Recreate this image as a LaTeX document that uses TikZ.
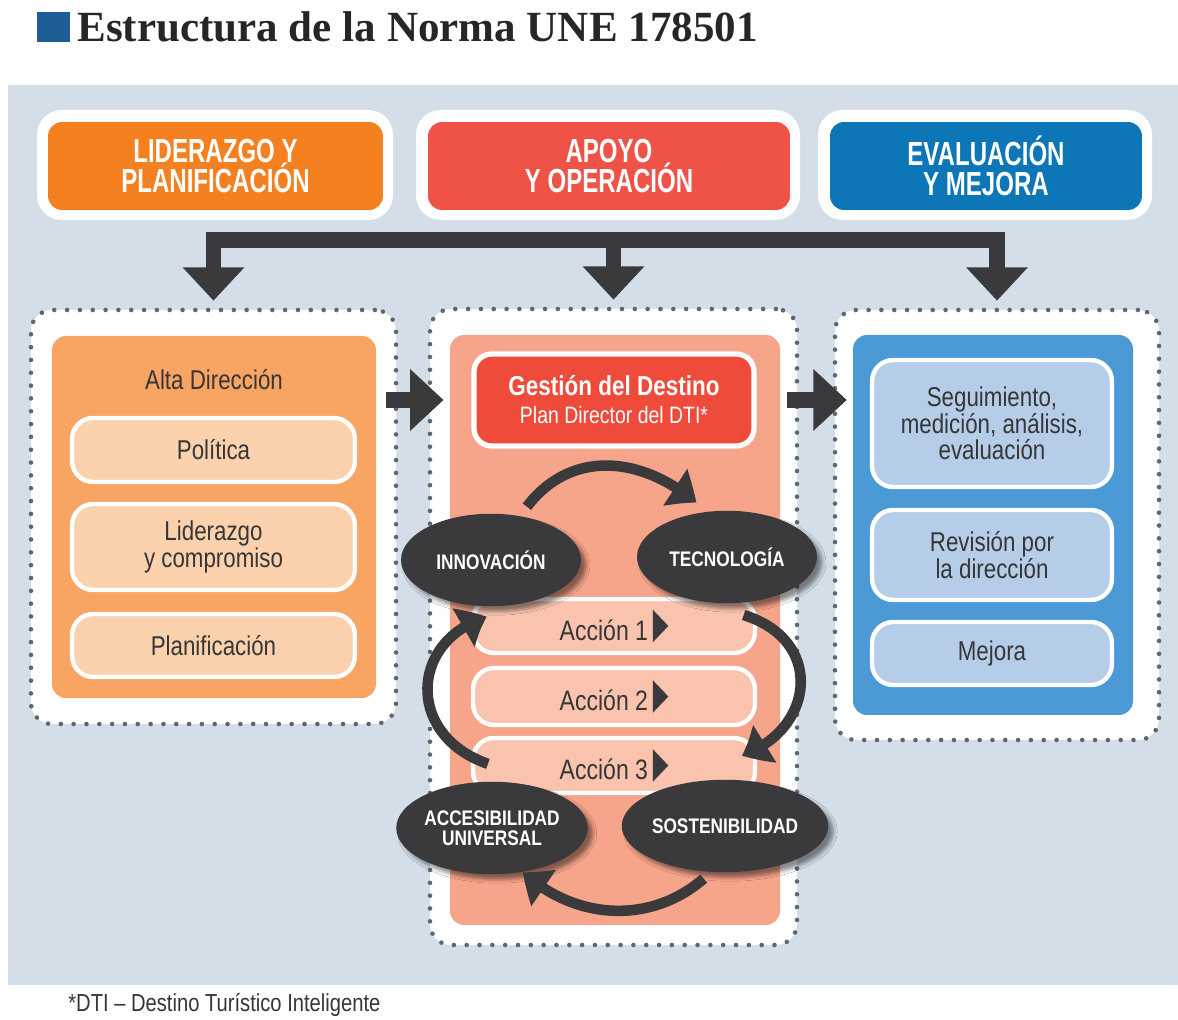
\documentclass[tikz,border=0pt]{standalone}
\usepackage{fontspec}
\setmainfont{Liberation Sans}
\newfontfamily\condfont[FakeStretch=0.82]{Liberation Sans}
\newfontfamily\hdrfont[FakeStretch=0.72]{Liberation Sans}
\newfontfamily\titlefont{Liberation Serif}
\usepackage{tikz}
\usetikzlibrary{arrows.meta,bending,fit,shapes.geometric,shadows.blur}

\definecolor{bgpanel}{HTML}{D3DEE8}
\definecolor{darkc}{HTML}{3A3A3C}
\definecolor{titleblue}{HTML}{1E5C96}
\definecolor{orangeH}{HTML}{F5801F}
\definecolor{redH}{HTML}{EF5347}
\definecolor{blueH}{HTML}{0D76B6}
\definecolor{orangeP}{HTML}{F8A463}
\definecolor{orangeS}{HTML}{FCD2AE}
\definecolor{salmonP}{HTML}{F6A48A}
\definecolor{salmonS}{HTML}{F9C3AE}
\definecolor{redG}{HTML}{EE4B3B}
\definecolor{blueP}{HTML}{4B9AD6}
\definecolor{blueS}{HTML}{B5CDE8}
\definecolor{textc}{HTML}{363636}
\definecolor{dotc}{HTML}{5E6670}

\newcommand{\tri}{\tikz[baseline]\fill[darkc, sharp corners, draw=none] (0,-0.15ex) -- (0,2.05ex) -- (1.05ex,0.95ex) -- cycle;}

\begin{document}
\begin{tikzpicture}[x=0.02cm,y=-0.02cm,
  hdrframe/.style={fill=white, rounded corners=14pt, inner sep=0pt},
  hdr/.style={rounded corners=8pt, inner sep=0pt, text=white, align=center,
    minimum height=1.76cm, font=\hdrfont\bfseries\fontsize{19}{17.5}\selectfont},
  frame/.style={draw=dotc, fill=white, line width=2.6pt, dash pattern=on 0pt off 7.3pt,
    line cap=round, rounded corners=12pt, inner sep=0pt},
  panel/.style={rounded corners=8pt, inner sep=0pt},
  subbox/.style={draw=white, line width=2.5pt, rounded corners=12pt, inner sep=0pt,
    text=textc, align=center, font=\condfont\fontsize{15.5}{15}\selectfont},
  lsub/.style={subbox, fill=orangeS, minimum width=5.66cm},
  rsub/.style={subbox, fill=blueS, minimum width=4.8cm},
  accion/.style={subbox, fill=salmonS, minimum width=5.64cm, font=\condfont\fontsize{16}{16}\selectfont},
  topic/.style={ellipse, fill=darkc, text=white, inner sep=0pt, align=center,
    minimum width=3.6cm, minimum height=1.85cm,
    font=\condfont\bfseries\fontsize{12}{11.5}\selectfont,
    blur shadow={shadow xshift=3pt, shadow yshift=-3pt, shadow opacity=45}},
  bigarrow/.style={draw=darkc, line width=9pt, -{Triangle[length=19pt,width=34pt]}},
  cycarrow/.style={draw=darkc, line width=6pt, -{Triangle[length=15pt,width=24pt,bend]}}]

\useasboundingbox (0,0) rectangle (1178,1020);

%%%%%%%%%%%%%%%%%%Title%%%%%%%%%%%%%%%
\fill[titleblue] (37,12) rectangle (70,42);
\node[anchor=west, inner sep=0pt, text=black!85,
  font=\titlefont\bfseries\fontsize{24.5}{26}\selectfont] (title) at (77,27)
  {Estructura de la Norma UNE 178501};

%%%%%%%%%%%%%%%%%%Background Panel%%%%%%%%%%%%%%%
\fill[bgpanel] (8,85) rectangle (1178,985);

%%%%%%%%%%%%%%%%%%Header Boxes%%%%%%%%%%%%%%%
\node[hdrframe, fit={(37,110) (393,220)}] (lhf) {};
\node[hdrframe, fit={(416,110) (800,220)}] (mhf) {};
\node[hdrframe, fit={(818,110) (1152,220)}] (rhf) {};
\node[hdr, fill=orangeH, minimum width=6.7cm] (lhdr) at (215.5,166) {LIDERAZGO Y\\PLANIFICACIÓN};
\node[hdr, fill=redH, minimum width=7.24cm] (mhdr) at (609,166) {APOYO\\Y OPERACIÓN};
\node[hdr, fill=blueH, minimum width=6.24cm] (rhdr) at (986,166) {EVALUACIÓN\\Y MEJORA};

%%%%%%%%%%%%%%%%%%Dotted Frames and Panels%%%%%%%%%%%%%%%
\node[frame, fit={(31,310) (396,724)}] (lframe) {};
\node[frame, fit={(430,309) (797,945)}] (mframe) {};
\node[frame, fit={(835,310) (1159,740)}] (rframe) {};
\node[panel, fill=orangeP, fit={(52,336) (376,698)}] (lpanel) {};
\node[panel, fill=salmonP, fit={(450,335) (780,925)}] (mpanel) {};
\node[panel, fill=blueP, fit={(853,335) (1133,715)}] (rpanel) {};

%%%%%%%%%%%%%%%%%%Bar and Drops%%%%%%%%%%%%%%%
\coordinate (bar) at (0,240);
\draw[draw=darkc, line width=9pt, line cap=rect] (lframe.north |- bar) -- (rframe.north |- bar);
\draw[bigarrow] (lframe.north |- bar) -- ([yshift=4pt]lframe.north);
\draw[bigarrow] (mframe.north |- bar) -- ([yshift=4pt]mframe.north);
\draw[bigarrow] (rframe.north |- bar) -- ([yshift=4pt]rframe.north);

%%%%%%%%%%%%%%%%%%Left Column%%%%%%%%%%%%%%%
\node[text=textc, font=\condfont\fontsize{15.5}{15}\selectfont] (alta) at (214,380) {Alta Dirección};
\node[lsub, minimum height=1.28cm] (politica) at (213.5,450) {Política};
\node[lsub, minimum height=1.72cm] (liderazgo) at (213.5,547) {Liderazgo\\y compromiso};
\node[lsub, minimum height=1.26cm] (planif) at (213.5,645.5) {Planificación};

%%%%%%%%%%%%%%%%%%Right Column%%%%%%%%%%%%%%%
\node[rsub, minimum height=2.54cm] (seguim) at (992,423.5) {Seguimiento,\\medición, análisis,\\evaluación};
\node[rsub, minimum height=1.8cm] (revision) at (992,555) {Revisión por\\la dirección};
\node[rsub, minimum height=1.26cm] (mejora) at (992,653.5) {Mejora};

%%%%%%%%%%%%%%%%%%Middle Column%%%%%%%%%%%%%%%
\node[subbox, fill=redG, line width=3pt, rounded corners=10pt, text=white,
  minimum width=5.6cm, minimum height=1.84cm,
  font=\condfont\fontsize{13.5}{16}\selectfont] (gestion) at (614,400)
  {{\bfseries\fontsize{15.6}{16}\selectfont Gestión del Destino}\\Plan Director del DTI*};
\node[accion, minimum height=1.08cm] (accion1) at (614,626) {Acción 1\,\tri};
\node[accion, minimum height=1.14cm] (accion2) at (614,696.5) {Acción 2\,\tri};
\node[accion, minimum height=1.1cm] (accion3) at (614,765.5) {Acción 3\,\tri};

%%%%%%%%%%%%%%%%%%Arrows Between Columns%%%%%%%%%%%%%%%
\draw[bigarrow] ([xshift=-7pt]lframe.east |- gestion) -- ([xshift=9pt]mframe.west |- gestion);
\draw[bigarrow] ([xshift=-7pt]mframe.east |- gestion) -- ([xshift=8pt]rframe.west |- gestion);

%%%%%%%%%%%%%%%%%%Cycle%%%%%%%%%%%%%%%
\node[topic] (innov) at (491,560) {INNOVACIÓN};
\node[topic] (tecno) at (727,557) {TECNOLOGÍA};
\node[topic] (accesib) at (492,828) {ACCESIBILIDAD\\UNIVERSAL};
\node[topic] (sosten) at (725,826) {SOSTENIBILIDAD};

\draw[cycarrow] ([yshift=6pt]innov.50) .. controls (570,450) and (640,455) .. ([yshift=6pt]tecno.125);
\draw[cycarrow] ([yshift=-7pt]tecno.-70) .. controls (825,640) and (815,730) .. ([yshift=14pt]sosten.70);
\draw[cycarrow] ([yshift=-4pt]sosten.-115) .. controls (650,925) and (575,920) .. (accesib.-55);
\draw[cycarrow] ([yshift=10pt]accesib.95) .. controls (405,735) and (410,640) .. ([yshift=-6pt]innov.-95);

%%%%%%%%%%%%%%%%%%Footnote%%%%%%%%%%%%%%%
\node[anchor=west, inner sep=0pt, text=textc, font=\condfont\fontsize{14}{16}\selectfont] (nota) at (68,1005)
  {*DTI – Destino Turístico Inteligente};

\end{tikzpicture}
\end{document}
